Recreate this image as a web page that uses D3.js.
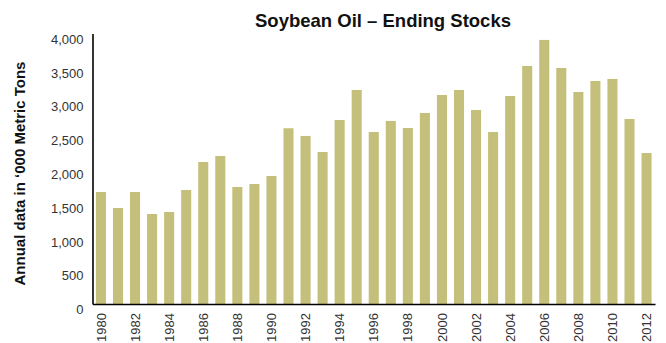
<!DOCTYPE html>
<html>
<head>
<meta charset="utf-8">
<script src="https://cdn.jsdelivr.net/npm/d3@7"></script>
<style>
  html, body { margin: 0; padding: 0; background: #fff; }
  svg { display: block; font-family: "Liberation Sans", Arial, Helvetica, sans-serif; }
</style>
</head>
<body>
<svg id="chart" width="666" height="343"></svg>
<script>
const years = [1980,1981,1982,1983,1984,1985,1986,1987,1988,1989,1990,1991,1992,1993,1994,1995,1996,1997,1998,1999,2000,2001,2002,2003,2004,2005,2006,2007,2008,2009,2010,2011,2012];
const endingStocks = [1656,1420,1656,1331,1361,1686,2100,2189,1730,1775,1893,2599,2485,2248,2721,3165,2544,2707,2603,2825,3091,3165,2869,2544,3076,3520,3905,3490,3135,3298,3328,2736,2233];
const yTicks = [0,500,1000,1500,2000,2500,3000,3500,4000];
const xTickLabels = years.filter(y => y % 2 === 0);
const titleText = "Soybean Oil \u2013 Ending Stocks";
const yAxisTitle = "Annual data in \u2018000 Metric Tons";

const svg = d3.select("#chart");
const margin = {left: 92.5, right: 11, top: 33.5, bottom: 39};
const W = 666, H = 343;

const x = d3.scaleBand()
  .domain(years)
  .range([margin.left, W - margin.right])
  .paddingInner(0.41)
  .paddingOuter(0.2);

const y = d3.scaleLinear()
  .domain([0, 4000])
  .range([H - margin.bottom, margin.top]);

// Bars
svg.append("g")
  .selectAll("rect")
  .data(years)
  .join("rect")
  .attr("x", (d) => x(d))
  .attr("width", x.bandwidth())
  .attr("y", (d, i) => y(endingStocks[i]))
  .attr("height", (d, i) => y(0) - y(endingStocks[i]))
  .attr("fill", "#c4c07b");

// Y axis
const yAxis = d3.axisLeft(y)
  .tickValues(yTicks)
  .tickFormat(d3.format(","))
  .tickSize(0)
  .tickPadding(9);
const gy = svg.append("g")
  .attr("transform", `translate(${margin.left},0)`)
  .call(yAxis);
gy.select(".domain").attr("stroke", "#000").attr("stroke-width", 1.6);
gy.selectAll("text")
  .attr("font-size", 13)
  .attr("fill", "#333")
  .attr("dy", "0.75em");

// X axis
const xAxis = d3.axisBottom(x)
  .tickValues(xTickLabels)
  .tickSize(0)
  .tickPadding(0);
const gx = svg.append("g")
  .attr("transform", `translate(0,${y(0)})`)
  .call(xAxis);
gx.select(".domain").attr("stroke", "#000").attr("stroke-width", 1.6);
gx.selectAll("text")
  .attr("font-size", 13)
  .attr("fill", "#333")
  .attr("transform", "rotate(-90)")
  .attr("text-anchor", "end")
  .attr("x", -9)
  .attr("y", 0)
  .attr("dy", "0.35em");

// Title
svg.append("text")
  .attr("x", 383)
  .attr("y", 27)
  .attr("text-anchor", "middle")
  .attr("font-size", 18.5)
  .attr("font-weight", "bold")
  .attr("fill", "#111")
  .text(titleText);

// Y axis title
svg.append("text")
  .attr("transform", `translate(24.5,${173.5}) rotate(-90)`)
  .attr("text-anchor", "middle")
  .attr("font-size", 15)
  .attr("font-weight", "bold")
  .attr("fill", "#111")
  .text(yAxisTitle);
</script>
</body>
</html>
